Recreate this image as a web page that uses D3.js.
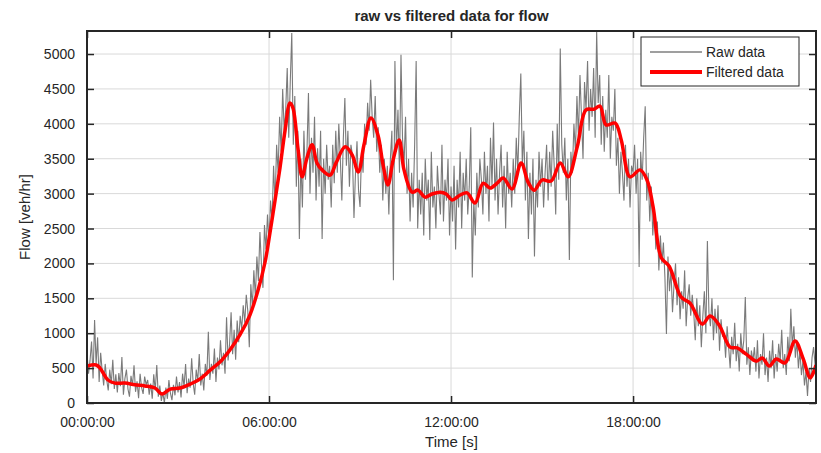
<!DOCTYPE html>
<html>
<head>
<meta charset="utf-8">
<script src="https://cdn.jsdelivr.net/npm/d3@7"></script>
<style>
  body { margin: 0; background: #fff; }
  text { font-family: "Liberation Sans", Arial, sans-serif; fill: #262626; }
</style>
</head>
<body>
<svg id="chart" width="821" height="453"></svg>
<script>
// ---- data ----------------------------------------------------------------
// raw flow samples, one every 3 minutes (20 per hour), veh/hr
var rawFlow = [
  720, 420, 610, 880, 350, 1190, 560, 940, 300, 720, 460, 250, 560, 330, 180, 480, 270, 620, 200, 410,
  150, 430, 240, 660, 120, 350, 480, 200, 90, 390, 250, 540, 160, 310, 70, 420, 220, 130, 380, 260,
  330, 120, 280, 60, 410, 180, 545, 90, 250, 30, 150, 0, 220, 60, 330, 140, 40, 260, 110, 380,
  150, 300, 80, 420, 230, 560, 140, 350, 220, 640, 280, 120, 480, 310, 700, 250, 420, 180, 560, 390,
  1020, 330, 560, 420, 780, 300, 650, 480, 900, 540, 720, 420, 1230, 610, 850, 1300, 700, 1050, 620, 1180,
  870, 1250, 1060, 1400, 1150, 1550, 1320, 800, 1700, 1380, 1900, 1520, 2100, 1750, 2450, 1980, 1650, 2550, 2200, 2700,
  2300, 2900, 2600, 3400, 2850, 3700, 3300, 4100, 3600, 4500, 3900, 4200, 4800, 3800, 4600, 5300, 3700, 4400, 3100, 3900,
  2350, 3500, 2800, 3900, 3200, 3600, 4440, 3000, 3800, 3300, 4100, 2900, 3650, 3100, 3900, 2350, 3500, 3000, 3700, 3200,
  3400, 2800, 3700, 3150, 3900, 3300, 4000, 3500, 2900, 3800, 4370, 3400, 3900, 3100, 3700, 3550, 2650, 3300, 3750, 3050,
  2810, 3600, 3300, 4000, 3700, 4300, 3900, 4630, 4100, 3800, 4400, 3600, 3950, 3300, 3700, 2900, 3500, 3000, 3400, 2700,
  3500, 3900, 1760, 4900, 3600, 4200, 3300, 4990, 3800, 3400, 4100, 3000, 3500, 2600, 3300, 2800, 3700, 4900, 2500, 3200,
  2700, 3300, 2400, 3500, 2900, 3200, 2335, 3600, 2800, 3100, 2500, 3400, 3000, 2700, 3700, 2600, 3200, 2900, 3500, 2400,
  3100, 2600, 3400, 2200, 3200, 2800, 3600, 2500, 3300, 2900, 3500, 2700, 3100, 3950, 1800, 2900, 2400, 3300, 2800, 3500,
  3200, 2700, 3600, 3000, 3400, 2600, 3800, 3100, 4020, 2900, 3500, 2700, 3300, 3700, 2800, 3400, 2500, 3600, 3000, 3300,
  2800, 3500, 3000, 3800, 3300, 4100, 4720, 3400, 3900, 2900, 3600, 2350, 3300, 2700, 3500, 2100, 3200, 2800, 3600, 3100,
  3500, 2800, 3300, 3700, 2900, 3600, 3100, 3900, 3400, 2700, 4000, 3200, 5080, 3700, 3300, 3800, 2900, 3500, 2050, 3600,
  3300, 4000, 3600, 4400, 3800, 4700, 4100, 3500, 4600, 4200, 4900, 3900, 4500, 4100, 4800, 3800, 5320, 4300, 4700, 3700,
  4400, 3600, 4200, 3800, 4700, 3500, 4100, 3900, 4500, 3400, 3800, 3000, 3600, 3300, 2900, 3700, 3100, 3500, 2800, 3400,
  3300, 3700, 3000, 3500, 1950, 3600, 3200, 3800, 4250, 2900, 3300, 2600, 3100, 2400, 2800, 2200, 2600, 1900, 2400, 2000,
  2300, 1800, 990, 2100, 1600, 1900, 1300, 1700, 2000, 1400, 1800, 1200, 1600, 1350, 1900, 1100, 1500, 1700, 1250, 1550,
  1300, 900, 1500, 1100, 1400, 800, 1250, 1600, 1000, 2320, 1300, 1100, 1500, 900, 1350, 1000, 1400, 750, 1200, 950,
  1000, 650, 1100, 800, 500, 950, 700, 1150, 600, 850, 450, 1000, 700, 900, 1520, 550, 800, 400, 750, 600,
  800, 450, 900, 350, 700, 550, 1000, 400, 650, 300, 750, 500, 900, 350, 700, 450, 850, 600, 1050, 500,
  700, 400, 950, 600, 1350, 800, 1100, 650, 900, 500, 750, 400, 600, 250, 450, 100, 500, 300, 650, 800,
  550
]
var rawStep = 0.05 // hours between raw samples

// filtered curve, read at irregular times (hours)
var filtHours = [0, 0.30, 0.43, 0.69, 0.92, 1.25, 1.58, 1.91, 2.24, 2.47, 2.74, 3.07, 3.40, 3.73, 4.06, 4.39,
  4.71, 5.04, 5.37, 5.64, 5.87, 6.03, 6.20, 6.36, 6.53, 6.69, 6.79, 6.96, 7.09, 7.25, 7.42, 7.58, 7.75, 8.01,
  8.21, 8.51, 8.74, 8.94, 9.13, 9.36, 9.59, 9.76, 9.92, 10.09, 10.29, 10.45, 10.72, 10.91, 11.14, 11.37, 11.64,
  11.84, 12.03, 12.30, 12.53, 12.79, 13.06, 13.29, 13.52, 13.72, 14.01, 14.31, 14.54, 14.74, 15.00, 15.30,
  15.60, 15.86, 16.16, 16.45, 16.72, 16.91, 17.11, 17.41, 17.61, 17.90, 18.23, 18.46, 18.66, 18.93, 19.19,
  19.58, 19.88, 20.28, 20.54, 20.84, 21.20, 21.43, 21.73, 22.06, 22.26, 22.49, 22.72, 23.01, 23.34, 23.61,
  23.84, 24.03]
var filtFlow = [530, 545, 500, 330, 285, 285, 260, 245, 215, 130, 200, 215, 270, 345, 470, 590,
  760, 975, 1260, 1620, 2020, 2435, 2910, 3365, 3910, 4300, 4225, 3625, 3240, 3510, 3700, 3440, 3340, 3265,
  3440, 3670, 3555, 3310, 3700, 4085, 3840, 3410, 3125, 3480, 3770, 3340, 3020, 3050, 2950, 2995, 3020,
  2995, 2910, 2980, 3010, 2865, 3150, 3080, 3150, 3225, 3065, 3440, 3165, 3050, 3195, 3180,
  3440, 3240, 3670, 4200, 4210, 4255, 3985, 4010, 3770, 3240, 3340, 3195, 2810, 2080, 1960,
  1520, 1430, 1130, 1245, 1115, 800, 790, 700, 600, 645, 530, 630, 575, 890, 630,
  360, 545]

var yTicks = [0, 500, 1000, 1500, 2000, 2500, 3000, 3500, 4000, 4500, 5000]
var xTicks = [0, 6, 12, 18]
var xTickLabels = ["00:00:00", "06:00:00", "12:00:00", "18:00:00"]
var seriesNames = ["Raw data", "Filtered data"]

// ---- setup ---------------------------------------------------------------
var svg = d3.select("#chart")
var plot = { left: 87, right: 816, top: 31, bottom: 403 }

var x = d3.scaleLinear().domain([0, 24.03]).range([plot.left, plot.right])
var y = d3.scaleLinear().domain([0, 5330]).range([plot.bottom, plot.top])

var raw = rawFlow.map(function (v, i) { return [i * rawStep, v] })
var filt = filtHours.map(function (h, i) { return [h, filtFlow[i]] })

// grid
svg.append("g").selectAll("line")
    .data(yTicks.slice(1))
    .enter().append("line")
    .attr("x1", plot.left).attr("x2", plot.right)
    .attr("y1", function (d) { return y(d) }).attr("y2", function (d) { return y(d) })
    .attr("stroke", "#d9d9d9").attr("stroke-width", 1)

svg.append("g").selectAll("line")
    .data(xTicks.slice(1))
    .enter().append("line")
    .attr("x1", function (d) { return x(d) }).attr("x2", function (d) { return x(d) })
    .attr("y1", plot.top).attr("y2", plot.bottom)
    .attr("stroke", "#d9d9d9").attr("stroke-width", 1)

// clip for the lines
svg.append("clipPath").attr("id", "plotclip")
    .append("rect").attr("x", plot.left).attr("y", plot.top)
    .attr("width", plot.right - plot.left).attr("height", plot.bottom - plot.top)

var line = d3.line()
    .x(function (d) { return x(d[0]) })
    .y(function (d) { return y(d[1]) })

svg.append("path")
    .datum(raw)
    .attr("clip-path", "url(#plotclip)")
    .attr("fill", "none")
    .attr("stroke", "#7a7a7a")
    .attr("stroke-width", 1.1)
    .attr("d", line)

svg.append("path")
    .datum(filt)
    .attr("clip-path", "url(#plotclip)")
    .attr("fill", "none")
    .attr("stroke", "#ff0000")
    .attr("stroke-width", 3.5)
    .attr("stroke-linejoin", "round")
    .attr("d", line.curve(d3.curveCatmullRom.alpha(0.5)))

// axes (ticks pointing inward, on all four sides)
var tickLen = 7
var fmtX = function (d) { return xTickLabels[xTicks.indexOf(d)] }

svg.append("g")
    .attr("transform", "translate(0," + plot.bottom + ")")
    .call(d3.axisBottom(x).tickValues(xTicks).tickFormat(fmtX).tickSizeInner(-tickLen).tickSizeOuter(0).tickPadding(14))
svg.append("g")
    .attr("transform", "translate(0," + plot.top + ")")
    .call(d3.axisTop(x).tickValues(xTicks).tickFormat("").tickSizeInner(-tickLen).tickSizeOuter(0))
svg.append("g")
    .attr("transform", "translate(" + plot.left + ",0)")
    .call(d3.axisLeft(y).tickValues(yTicks).tickFormat(d3.format("d")).tickSizeInner(-tickLen).tickSizeOuter(0).tickPadding(12))
svg.append("g")
    .attr("transform", "translate(" + plot.right + ",0)")
    .call(d3.axisRight(y).tickValues(yTicks).tickFormat("").tickSizeInner(-tickLen).tickSizeOuter(0))

svg.selectAll(".domain").remove()
svg.selectAll(".tick line").attr("stroke", "#262626").attr("stroke-width", 1.5)
svg.selectAll(".tick text")
    .style("font-family", "'Liberation Sans', Arial, sans-serif")
    .style("font-size", "14px")
    .attr("fill", "#262626")

// box
svg.append("rect")
    .attr("x", plot.left).attr("y", plot.top)
    .attr("width", plot.right - plot.left).attr("height", plot.bottom - plot.top)
    .attr("fill", "none").attr("stroke", "#262626").attr("stroke-width", 2)

// titles
svg.append("text")
    .attr("x", (plot.left + plot.right) / 2).attr("y", 21)
    .attr("text-anchor", "middle")
    .style("font-size", "15px").style("font-weight", "bold")
    .text("raw vs filtered data for flow")

svg.append("text")
    .attr("x", (plot.left + plot.right) / 2).attr("y", 447)
    .attr("text-anchor", "middle")
    .style("font-size", "15px")
    .text("Time [s]")

svg.append("text")
    .attr("transform", "translate(30," + (plot.top + plot.bottom) / 2 + ") rotate(-90)")
    .attr("text-anchor", "middle")
    .style("font-size", "15px")
    .text("Flow [veh/hr]")

// legend
var lg = svg.append("g").attr("transform", "translate(641,37)")
lg.append("rect")
    .attr("width", 158).attr("height", 49)
    .attr("fill", "#fff").attr("stroke", "#262626").attr("stroke-width", 1)

var legendStyle = [{ c: "#7f7f7f", w: 1.5 }, { c: "#ff0000", w: 4 }]
seriesNames.forEach(function (name, i) {
    var ly = 15 + i * 20
    lg.append("line")
        .attr("x1", 9).attr("x2", 61).attr("y1", ly).attr("y2", ly)
        .attr("stroke", legendStyle[i].c).attr("stroke-width", legendStyle[i].w)
    lg.append("text")
        .attr("x", 65).attr("y", ly + 5)
        .style("font-size", "14px")
        .text(name)
})
</script>
</body>
</html>
